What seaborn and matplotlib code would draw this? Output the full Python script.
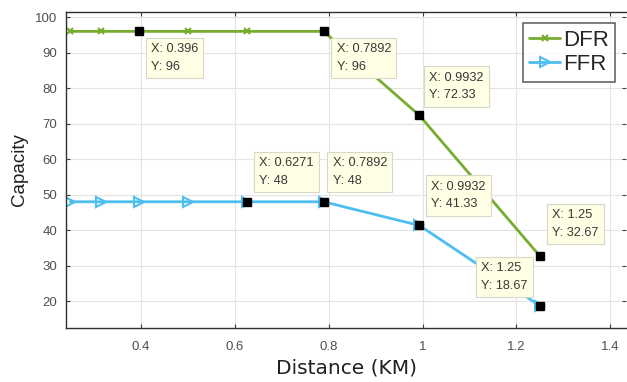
import numpy as np
import pandas as pd
import matplotlib
matplotlib.use("Agg")
import matplotlib.pyplot as plt
import seaborn as sns

# data
distance = [0.25, 0.315, 0.396, 0.5, 0.6271, 0.7892, 0.9932, 1.25]
dfr = [96, 96, 96, 96, 96, 96, 72.33, 32.67]
ffr = [48, 48, 48, 48, 48, 48, 41.33, 18.67]

# data tips shown on the chart (x, y)
dfr_tips_x = [0.396, 0.7892, 0.9932, 1.25]
dfr_tips_y = [96, 96, 72.33, 32.67]
ffr_tips_x = [0.6271, 0.7892, 0.9932, 1.25]
ffr_tips_y = [48, 48, 41.33, 18.67]

sns.set_style("whitegrid")
plt.rcParams["font.family"] = ["Arial", "Liberation Sans", "DejaVu Sans"]

fig = plt.figure(figsize=(6.27, 3.82), dpi=100)
ax = fig.add_axes([0.105, 0.141, 0.894, 0.828])

green = "#77AC30"
blue = "#4DBEEE"

sns.lineplot(x=distance, y=dfr, ax=ax, color=green, lw=2, marker="x",
             markersize=5, markeredgewidth=1.5, markeredgecolor=green, label="DFR")
sns.lineplot(x=distance, y=ffr, ax=ax, color=blue, lw=2, marker=">",
             markersize=7, markerfacecolor="none", markeredgewidth=1.5,
             markeredgecolor=blue, label="FFR")

# data tip squares
ax.plot(dfr_tips_x, dfr_tips_y, ls="none", marker="s", ms=6, color="black", zorder=5)
ax.plot(ffr_tips_x, ffr_tips_y, ls="none", marker="s", ms=6, color="black", zorder=5)

def fmt(v):
    return f"{v:g}"

# offsets (pixels) and alignment for each tip box
dfr_off = [((12, -12), "left", "top"), ((13, -12), "left", "top"),
           ((10, 14), "left", "bottom"), ((12, 17), "left", "bottom")]
ffr_off = [((12, 15), "left", "bottom"), ((9, 15), "left", "bottom"),
           ((12, 15), "left", "bottom"), ((-12, 14), "right", "bottom")]

for xs, ys, offs in [(dfr_tips_x, dfr_tips_y, dfr_off), (ffr_tips_x, ffr_tips_y, ffr_off)]:
    for x, y, (off, ha, va) in zip(xs, ys, offs):
        ax.annotate(f"X: {fmt(x)}\nY: {fmt(y)}", (x, y), xytext=off,
                    textcoords="offset pixels", ha=ha, va=va, fontsize=9.2,
                    multialignment="left", color="#383838", linespacing=1.65,
                    zorder=6,
                    bbox=dict(boxstyle="square,pad=0.4", fc="#FFFFE6", ec="#D8D8C8", lw=0.8))

ax.set_xlim(0.2404, 1.434)
ax.set_ylim(12.4, 101.5)
ax.set_xticks([0.4, 0.6, 0.8, 1.0, 1.2, 1.4])
ax.set_xticklabels(["0.4", "0.6", "0.8", "1", "1.2", "1.4"])
ax.set_yticks(range(20, 101, 10))
ax.tick_params(axis="both", labelsize=9.5, labelcolor="#505050", direction="in",
               length=3, color="#404040", top=True, right=True,
               bottom=True, left=True)
ax.tick_params(axis="x", pad=9)
ax.tick_params(axis="y", pad=6)
ax.grid(True, color="#E3E3E3", lw=0.8)
for s in ax.spines.values():
    s.set_color("#303030")
    s.set_linewidth(1)
ax.spines["right"].set_visible(False)

ax.set_xlabel("Distance (KM)", fontsize=14.5, color="#202020", labelpad=4,
              family=["DejaVu Sans"])
ax.set_ylabel("Capacity", fontsize=13.5, color="#202020", labelpad=5)

leg = ax.legend(loc="upper right", fontsize=16, frameon=True, fancybox=False,
                handlelength=1.4, handletextpad=0.1, borderpad=0.3,
                labelspacing=0.15, borderaxespad=0.5)
leg.get_frame().set_edgecolor("#404040")
leg.get_frame().set_linewidth(1.2)

fig.savefig("out.png", dpi=100)
